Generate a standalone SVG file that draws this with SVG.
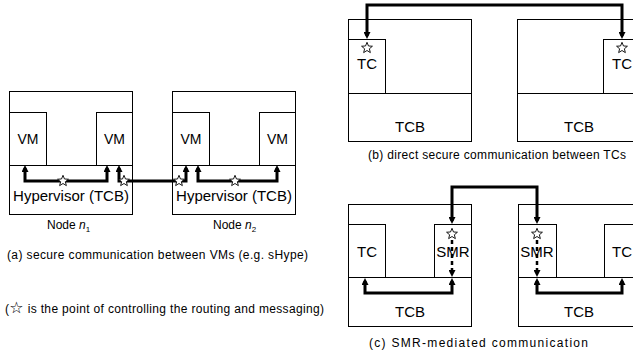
<svg xmlns="http://www.w3.org/2000/svg" width="633" height="351" viewBox="0 0 633 351">
<style>
.box{fill:#fff;stroke:#000;stroke-width:1}
.ln{fill:none;stroke:#000;stroke-width:1}
.wire{fill:none;stroke:#000;stroke-width:3;marker-start:url(#ah);marker-end:url(#ah)}
.dash{fill:none;stroke:#000;stroke-width:2.5;stroke-dasharray:4 3;marker-end:url(#ah)}
.lbl{font-family:"Liberation Sans",Arial,sans-serif;font-size:15px;text-anchor:middle;fill:#000}
.cap{font-family:"Liberation Sans",Arial,sans-serif;font-size:12px;fill:#000}
.star{fill:#fff;stroke:#000;stroke-width:0.9}
</style>
<defs>
<marker id="ah" viewBox="0 0 7 7" refX="4" refY="3.5" markerWidth="7" markerHeight="7" markerUnits="userSpaceOnUse" orient="auto-start-reverse">
<path d="M0,0 L7,3.5 L0,7 z" fill="#000"/>
</marker>
<path id="st" class="star" d="M0,-5.7 L1.47,-2.03 L5.43,-1.77 L2.38,0.78 L3.35,4.62 L0,2.5 L-3.35,4.62 L-2.38,0.78 L-5.43,-1.77 L-1.47,-2.03 Z"/>
</defs>

<!-- Panel (a) -->
<g id="node-n1">
<rect class="box" x="9.5" y="91.5" width="123" height="123"/>
<line class="ln" x1="9.5" y1="165.5" x2="132.5" y2="165.5"/>
<rect class="box" x="9.5" y="112.5" width="37" height="53"/>
<rect class="box" x="96.5" y="112.5" width="36" height="53"/>
<text class="lbl" x="28" y="143.5" style="font-size:14px">VM</text>
<text class="lbl" x="114.5" y="143.5" style="font-size:14px">VM</text>
<text class="lbl" x="71" y="201">Hypervisor (TCB)</text>
</g>
<g id="node-n2">
<rect class="box" x="172.5" y="91.5" width="123" height="123"/>
<line class="ln" x1="172.5" y1="165.5" x2="295.5" y2="165.5"/>
<rect class="box" x="172.5" y="112.5" width="37" height="53"/>
<rect class="box" x="259.5" y="112.5" width="36" height="53"/>
<text class="lbl" x="191" y="143.5" style="font-size:14px">VM</text>
<text class="lbl" x="277.5" y="143.5" style="font-size:14px">VM</text>
<text class="lbl" x="234" y="201">Hypervisor (TCB)</text>
</g>

<!-- Panel (b) -->
<g id="b-left">
<rect class="box" x="348.5" y="19.5" width="123" height="122"/>
<line class="ln" x1="348.5" y1="93.5" x2="471.5" y2="93.5"/>
<rect class="box" x="348.5" y="39.5" width="37" height="54"/>
<text class="lbl" x="367" y="68.5">TC</text>
<text class="lbl" x="410" y="131.5">TCB</text>
</g>
<g id="b-right">
<rect class="box" x="517.5" y="19.5" width="124" height="122"/>
<line class="ln" x1="517.5" y1="93.5" x2="641" y2="93.5"/>
<rect class="box" x="603.5" y="39.5" width="38" height="54"/>
<text class="lbl" x="622" y="68.5">TC</text>
<text class="lbl" x="579" y="131.5">TCB</text>
</g>

<!-- Panel (c) -->
<g id="c-left">
<rect class="box" x="348.5" y="204.5" width="123" height="122"/>
<line class="ln" x1="348.5" y1="277.5" x2="471.5" y2="277.5"/>
<rect class="box" x="348.5" y="224.5" width="37" height="53"/>
<rect class="box" x="434.5" y="224.5" width="37" height="53"/>
<text class="lbl" x="367" y="257">TC</text>
<text class="lbl" x="453" y="257">SMR</text>
<text class="lbl" x="410" y="317">TCB</text>
</g>
<g id="c-right">
<rect class="box" x="518.5" y="204.5" width="123" height="122"/>
<line class="ln" x1="518.5" y1="277.5" x2="641" y2="277.5"/>
<rect class="box" x="518.5" y="224.5" width="38" height="53"/>
<rect class="box" x="604.5" y="224.5" width="37" height="53"/>
<text class="lbl" x="537" y="257">SMR</text>
<text class="lbl" x="622" y="257">TC</text>
<text class="lbl" x="579" y="317">TCB</text>
</g>

<!-- Connectors -->
<g id="connectors">
<path class="wire" d="M25,168 L25,181 L107,181 L107,168"/>
<path class="wire" d="M119,168 L119,181 L186,181 L186,168"/>
<path class="wire" d="M198,168 L198,181 L277,181 L277,168"/>
<path class="wire" d="M367,36 L367,5 L622,5 L622,36"/>
<path class="wire" d="M452,221 L452,187 L537,187 L537,221"/>
<path class="dash" d="M452,240 L452,274"/>
<path class="dash" d="M537,240 L537,274"/>
<path class="wire" d="M452,281 L452,293 L365,293 L365,281"/>
<path class="wire" d="M537,281 L537,293 L622,293 L622,281"/>
<use href="#st" x="63" y="181"/>
<use href="#st" x="124" y="181"/>
<use href="#st" x="179" y="181"/>
<use href="#st" x="235" y="181"/>
<use href="#st" x="367" y="48"/>
<use href="#st" x="622" y="48"/>
<use href="#st" x="452" y="234"/>
<use href="#st" x="537" y="234"/>
</g>

<!-- Captions -->
<g id="captions">
<text class="cap" x="47" y="229">Node <tspan font-style="italic">n</tspan><tspan font-size="8" dy="3">1</tspan></text>
<text class="cap" x="213" y="229">Node <tspan font-style="italic">n</tspan><tspan font-size="8" dy="3">2</tspan></text>
<text class="cap" x="7" y="259" textLength="301" lengthAdjust="spacing">(a) secure communication between VMs (e.g. sHype)</text>
<text class="cap" x="5" y="313" textLength="319" lengthAdjust="spacing">(<tspan font-family="DejaVu Sans" font-size="16">☆</tspan> is the point of controlling the routing and messaging)</text>
<text class="cap" x="368" y="159" textLength="258" lengthAdjust="spacing">(b) direct secure communication between TCs</text>
<text class="cap" x="369" y="347" textLength="219" lengthAdjust="spacing">(c) SMR-mediated communication</text>
</g>
</svg>
